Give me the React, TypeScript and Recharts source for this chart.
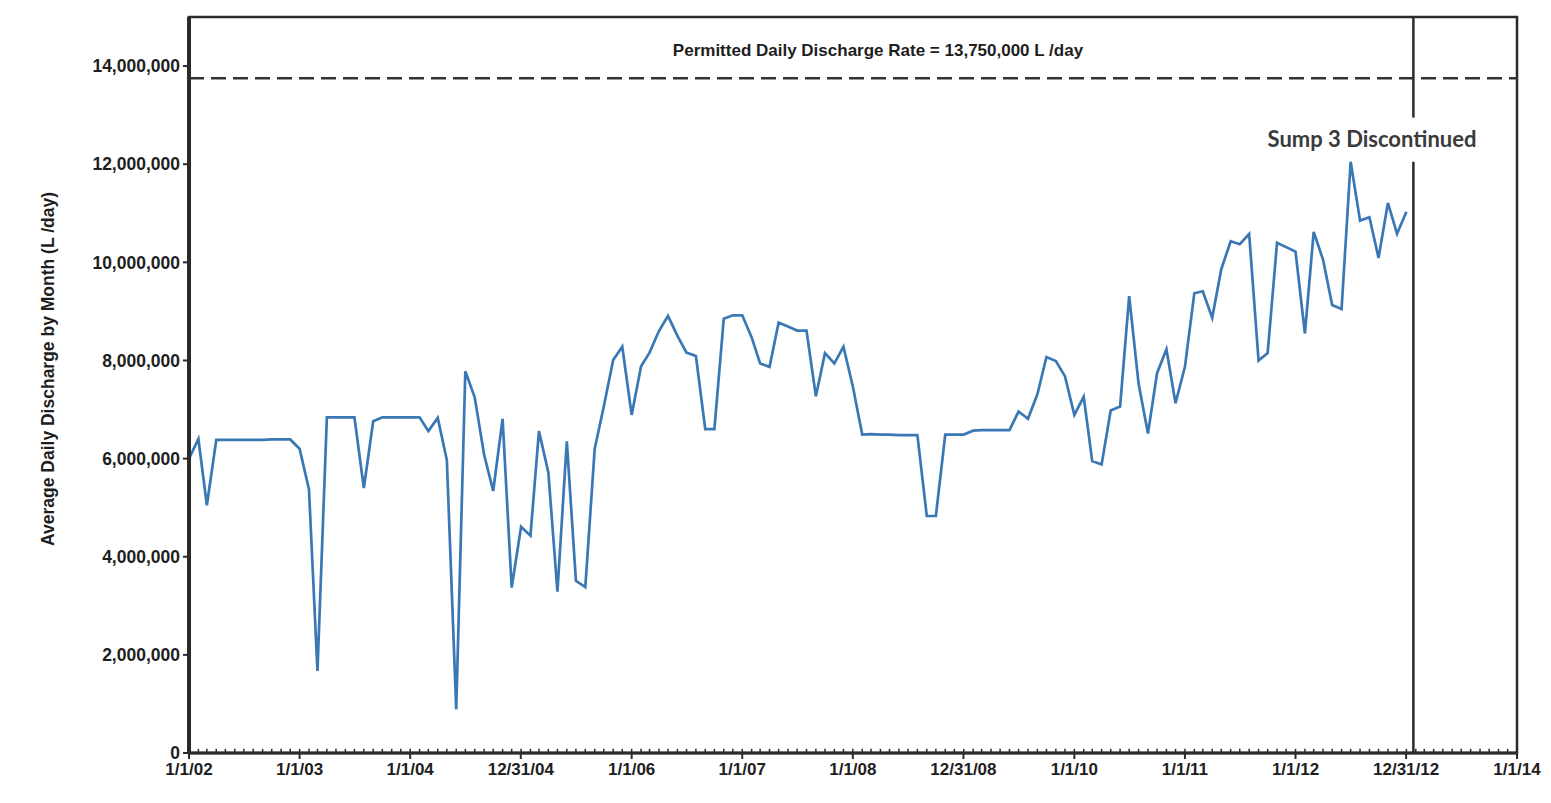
import { LineChart, Line, XAxis, YAxis, ReferenceLine, ReferenceArea } from "recharts"

// monthly averages, million L/day, Jan 2002 .. Jan 2013 (one value per month)
const discharge = [
  6.0, 6.4, 5.05, 6.38, 6.38, 6.38, 6.38, 6.38, 6.38, 6.39, 6.39, 6.39,
  6.2, 5.37, 1.67, 6.84, 6.84, 6.84, 6.84, 5.4, 6.76, 6.84, 6.84, 6.84,
  6.84, 6.84, 6.56, 6.83, 5.97, 0.89, 7.78, 7.25, 6.08, 5.34, 6.81, 3.37,
  4.61, 4.43, 6.56, 5.72, 3.29, 6.35, 3.51, 3.38, 6.2, 7.06, 8.01, 8.28,
  6.89, 7.88, 8.16, 8.6, 8.91, 8.5, 8.16, 8.09, 6.6, 6.6, 8.85, 8.92,
  8.92, 8.47, 7.94, 7.87, 8.77, 8.69, 8.61, 8.61, 7.27, 8.15, 7.94, 8.28,
  7.47, 6.49, 6.5, 6.49, 6.49, 6.48, 6.48, 6.48, 4.83, 4.83, 6.49, 6.49,
  6.49, 6.57, 6.58, 6.58, 6.58, 6.58, 6.96, 6.81, 7.31, 8.07, 7.99, 7.68,
  6.89, 7.26, 5.95, 5.88, 6.98, 7.06, 9.31, 7.53, 6.51, 7.74, 8.23, 7.13,
  7.87, 9.37, 9.41, 8.87, 9.86, 10.43, 10.37, 10.58, 8.0, 8.15, 10.4, 10.31,
  10.22, 8.55, 10.62, 10.05, 9.13, 9.05, 12.05, 10.85, 10.92, 10.09, 11.21, 10.58,
  11.03,
]

const xTickDates = [
  "2002-01-01", "2003-01-01", "2004-01-01", "2004-12-31", "2006-01-01", "2007-01-01",
  "2008-01-01", "2008-12-31", "2010-01-01", "2011-01-01", "2012-01-01", "2012-12-31",
  "2014-01-01",
]
const yTicks = [0, 2000000, 4000000, 6000000, 8000000, 10000000, 12000000, 14000000]

const PERMITTED = 13750000
const Y_MAX = 15000000
const SUMP_DATE = "2013-01-24"
const MINOR_TICK_LEN = 85000 // ~4px, in data units

const ts = (s: string) => Date.parse(s + "T00:00:00Z")
const X_MIN = ts("2002-01-01")
const X_MAX = ts("2014-01-01")

const data = discharge.map((v, i) => ({ date: Date.UTC(2002, i, 1), value: v * 1e6 }))
const minorTicks = Array.from({ length: 145 }, (_, i) => Date.UTC(2002, i, 1))

const fmtDate = (t: number) => {
  const d = new Date(t)
  return `${d.getUTCMonth() + 1}/${d.getUTCDate()}/${String(d.getUTCFullYear()).slice(2)}`
}
const fmtNum = (v: number) => v.toLocaleString("en-US")

const INK = "#2b2b2b"
const FONT = "'Liberation Sans', Arial, sans-serif"

export default function App() {
  const sumpX = ts(SUMP_DATE)
  return (
    <div style={{ width: 1535, height: 787, background: "#fff", fontFamily: FONT }}>
      <LineChart width={1535} height={787} data={data} margin={{ top: 9, right: 26, bottom: 2, left: 0 }}>
        <XAxis
          dataKey="date"
          type="number"
          domain={[X_MIN, X_MAX]}
          ticks={xTickDates.map(ts)}
          tickFormatter={fmtDate}
          interval={0}
          height={40}
          tickSize={6}
          tickMargin={4}
          axisLine={{ stroke: INK, strokeWidth: 3 }}
          tickLine={{ stroke: INK, strokeWidth: 2 }}
          tick={{ fill: "#1e1e1e", fontSize: 17, fontWeight: "bold", fontFamily: FONT }}
        />
        <YAxis
          type="number"
          domain={[0, Y_MAX]}
          ticks={yTicks}
          tickFormatter={fmtNum}
          width={181}
          tickSize={6}
          tickMargin={3}
          axisLine={{ stroke: INK, strokeWidth: 4 }}
          tickLine={{ stroke: INK, strokeWidth: 2 }}
          tick={{ fill: "#1e1e1e", fontSize: 17.5, fontWeight: "bold", fontFamily: FONT }}
          label={{
            content: () => (
              <text
                x={40}
                y={361}
                transform="rotate(-90 40 361)"
                textAnchor="middle"
                dominantBaseline="central"
                fill="#1e1e1e"
                fontSize={17.5}
                fontWeight="bold"
                fontFamily={FONT}
              >
                Average Daily Discharge by Month (L /day)
              </text>
            ),
          }}
        />
        <ReferenceArea
          x1={X_MIN}
          x2={X_MAX}
          y1={0}
          y2={Y_MAX}
          fill="none"
          stroke={INK}
          strokeWidth={2.5}
          ifOverflow="visible"
        />
        {/* monthly minor ticks along the date axis */}
        {minorTicks.map((t) => (
          <ReferenceLine
            key={t}
            segment={[{ x: t, y: 0 }, { x: t, y: MINOR_TICK_LEN }]}
            stroke={INK}
            strokeWidth={1.5}
          />
        ))}
        <ReferenceLine
          y={PERMITTED}
          stroke="#333"
          strokeWidth={2.5}
          strokeDasharray="15 7"
          label={{
            content: () => (
              <text x={870} y={48} textAnchor="middle" fill="#1e1e1e" fontSize={17} fontWeight="bold" fontFamily={FONT}>
                Permitted Daily Discharge Rate = 13,750,000 L /day
              </text>
            ),
          }}
        />
        <ReferenceLine
          segment={[{ x: sumpX, y: Y_MAX }, { x: sumpX, y: 12950000 }]}
          stroke={INK}
          strokeWidth={2.5}
          label={{
            content: () => (
              <text x={1364} y={139} textAnchor="middle" fill="#3a3a3a" fontSize={22} fontWeight="bold" fontFamily="Lato, 'Open Sans', sans-serif">
                Sump 3 Discontinued
              </text>
            ),
          }}
        />
        <ReferenceLine segment={[{ x: sumpX, y: 12050000 }, { x: sumpX, y: 0 }]} stroke={INK} strokeWidth={2.5} />
        <Line
          type="linear"
          dataKey="value"
          stroke="#3a78b5"
          strokeWidth={2.7}
          dot={false}
          isAnimationActive={false}
        />
      </LineChart>
    </div>
  )
}
